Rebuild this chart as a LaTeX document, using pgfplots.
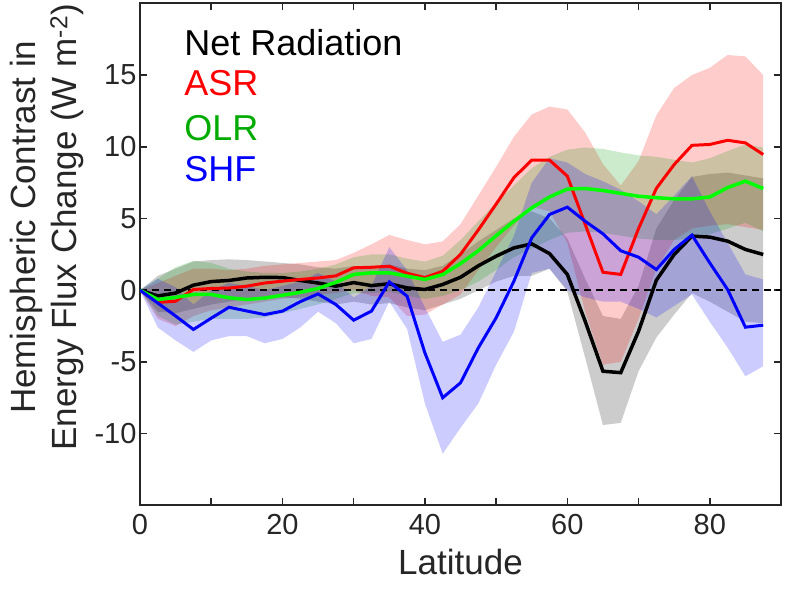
\documentclass[border=0pt]{standalone}
\usepackage{fontspec}
\setmainfont{Liberation Sans}
\usepackage{pgfplots}
\pgfplotsset{compat=1.18}
\usepgfplotslibrary{fillbetween}
\usepackage{pgfplotstable}

\pgfplotstableread{
lat nm nl nu am al au om ol ou sm sl su
0 0 0 0 0 0 0 0 0 0 0 0 0
2.5 -0.4 -1.5 1.0 -0.85 -2.0 0.5 -0.65 -1.8 0.8 -0.9 -2.6 0.8
5 -0.2 -1.6 1.5 -0.77 -2.5 1.0 -0.5 -2.4 1.6 -1.8 -3.5 0.2
7.5 0.35 -1.3 2.0 0.05 -1.8 1.5 -0.3 -2.2 2.05 -2.74 -4.3 -1.0
10 0.6 -1.0 2.1 0.12 -1.4 1.5 -0.3 -2.0 1.9 -1.95 -3.5 0.0
12.5 0.68 -0.8 2.15 0.15 -1.2 1.4 -0.53 -2.0 1.5 -1.19 -3.2 0.5
15 0.85 -0.6 2.1 0.28 -1.0 1.5 -0.65 -2.0 1.3 -1.45 -3.2 0.3
17.5 0.9 -0.5 2.0 0.5 -0.8 1.7 -0.55 -1.9 1.2 -1.7 -3.7 0.0
20 0.88 -0.5 1.9 0.63 -0.6 1.8 -0.35 -1.6 1.2 -1.46 -3.4 0.3
22.5 0.68 -0.6 1.8 0.75 -0.5 1.9 -0.15 -1.3 1.3 -0.8 -2.6 0.6
25 0.5 -0.8 1.6 0.85 -0.3 2.0 0.12 -1.0 1.5 -0.26 -1.5 1.2
27.5 0.28 -1.0 1.5 1.0 -0.2 2.1 0.55 -0.6 1.8 -1.0 -2.3 0.6
30 0.53 -0.8 1.7 1.56 0.0 2.6 1.1 -0.2 2.3 -2.09 -3.7 -0.5
32.5 0.32 -1.0 1.6 1.6 -0.4 3.2 1.21 -0.2 2.5 -1.46 -3.4 0.3
35 0.45 -0.9 1.8 1.67 -0.5 3.85 1.21 -0.1 2.5 0.58 -0.8 3.0
37.5 0.16 -1.2 1.5 1.18 -1.8 3.5 0.98 -0.4 2.2 -0.42 -2.7 1.4
40 0.05 -1.4 1.4 0.88 -1.7 3.2 0.75 -0.6 2.0 -4.37 -7.9 -1.2
42.5 0.4 -1.0 1.7 1.32 -1.0 3.4 1.09 -0.4 2.4 -7.5 -11.4 -3.6
45 0.9 -0.6 2.5 2.5 -0.3 4.6 1.85 0.0 3.5 -6.46 -9.6 -3.1
47.5 1.7 0.0 3.4 4.2 1.4 6.6 2.75 0.6 4.8 -4.02 -7.9 -1.2
50 2.37 0.6 4.2 6.0 3.0 8.6 3.8 1.4 6.1 -1.93 -5.2 1.3
52.5 2.95 1.0 5.0 7.85 4.5 10.7 4.81 2.3 7.3 0.63 -2.9 3.8
55 3.23 1.0 5.5 9.07 5.8 12.25 5.74 2.9 8.5 3.65 1.2 7.5
57.5 2.55 1.5 5.0 9.07 5.5 12.8 6.5 3.5 9.3 5.28 1.5 9.2
60 1.1 -0.1 3.6 7.95 3.3 12.6 7.05 4.0 9.8 5.79 0.0 8.9
62.5 -2.16 -4.7 0.8 4.6 -1.5 11.0 7.09 4.1 9.95 4.81 -0.5 8.1
65 -5.65 -9.4 -1.8 1.25 -5.2 8.8 6.95 4.0 9.85 3.93 -0.8 7.6
67.5 -5.75 -9.25 -2.0 1.1 -5.0 7.3 6.75 3.8 9.6 2.75 -0.8 7.0
70 -2.86 -5.65 0.3 4.3 -2.0 9.0 6.55 3.6 9.4 2.3 -1.3 6.2
72.5 0.7 -3.3 4.3 7.1 1.5 12.2 6.45 3.5 9.3 1.44 -1.9 5.3
75 2.49 -1.7 6.3 8.76 3.5 14.1 6.37 3.5 9.1 2.84 -1.1 6.6
77.5 3.77 -0.2 7.9 10.1 4.3 15.0 6.37 3.6 8.9 3.84 -0.3 7.95
80 3.7 -0.8 8.1 10.16 4.5 15.5 6.5 3.9 9.2 1.9 -2.2 5.5
82.5 3.42 -1.5 8.2 10.45 4.6 16.4 7.15 4.3 9.7 0.05 -4.0 3.3
85 2.84 -2.2 8.0 10.27 4.4 16.3 7.6 4.7 10.15 -2.58 -6.0 1.1
87.5 2.49 -2.3 7.8 9.46 4.2 15.0 7.09 4.1 9.95 -2.44 -5.3 0.75
}\data

\definecolor{bandgreen}{rgb}{0,0.6,0}
\definecolor{lime}{rgb}{0,1,0}
\definecolor{olrtext}{rgb}{0,0.67,0}
\definecolor{axgray}{rgb}{0.15,0.15,0.15}

\begin{document}
\begin{tikzpicture}
\begin{axis}[
  scale only axis, width=641pt, height=502pt,
  xmin=0, xmax=90, ymin=-15, ymax=20,
  xtick={0,10,...,90}, xticklabels={0,,20,,40,,60,,80,},
  ytick={-15,-10,...,20}, yticklabels={,-10,-5,0,5,10,15,},
  tick align=inside, major tick length=7pt,
  axis line style={line width=2pt, axgray},
  tick style={line width=1.5pt, axgray},
  ticklabel style={font=\fontsize{29}{29}\selectfont, text=axgray},
  xticklabel style={yshift=-5pt},
  xlabel={Latitude},
  ylabel={Hemispheric Contrast in\\Energy Flux Change (W m\textsuperscript{-2})},
  label style={font=\fontsize{35}{41}\selectfont, text=axgray},
  ylabel style={align=center, at={(ticklabel cs:0.554)}, anchor=south, yshift=4pt},
  xlabel style={yshift=-8pt},
]
\addplot[draw=none, name path=nl] table[x=lat,y=nl]{\data};
\addplot[draw=none, name path=nu] table[x=lat,y=nu]{\data};
\addplot[draw=none, name path=al] table[x=lat,y=al]{\data};
\addplot[draw=none, name path=au] table[x=lat,y=au]{\data};
\addplot[draw=none, name path=ol] table[x=lat,y=ol]{\data};
\addplot[draw=none, name path=ou] table[x=lat,y=ou]{\data};
\addplot[draw=none, name path=sl] table[x=lat,y=sl]{\data};
\addplot[draw=none, name path=su] table[x=lat,y=su]{\data};
\addplot[fill=black, fill opacity=0.2, draw=none] fill between[of=nu and nl];
\addplot[fill=red, fill opacity=0.2, draw=none] fill between[of=au and al];
\addplot[fill=bandgreen, fill opacity=0.2, draw=none] fill between[of=ou and ol];
\addplot[fill=blue, fill opacity=0.2, draw=none] fill between[of=su and sl];
\addplot[black, line width=1.5pt, dash pattern=on 7pt off 5pt] coordinates {(0,0) (90,0)};
\addplot[black, line width=3.5pt] table[x=lat,y=nm]{\data};
\addplot[red, line width=3pt] table[x=lat,y=am]{\data};
\addplot[lime, line width=3.5pt] table[x=lat,y=om]{\data};
\addplot[blue, line width=3pt] table[x=lat,y=sm]{\data};
\node[anchor=base west, inner sep=0pt, text=black, font=\fontsize{36}{36}\selectfont] at (rel axis cs:0.069,0.896) {Net Radiation};
\node[anchor=base west, inner sep=0pt, text=red, font=\fontsize{36}{36}\selectfont] at (rel axis cs:0.069,0.816) {ASR};
\node[anchor=base west, inner sep=0pt, text=olrtext, font=\fontsize{36}{36}\selectfont] at (rel axis cs:0.069,0.726) {OLR};
\node[anchor=base west, inner sep=0pt, text=blue, font=\fontsize{36}{36}\selectfont] at (rel axis cs:0.069,0.645) {SHF};
\end{axis}
\path (current axis.south west) ++(-140pt,-85pt) rectangle ([shift={(10pt,2pt)}]current axis.north east);
\end{tikzpicture}
\end{document}
